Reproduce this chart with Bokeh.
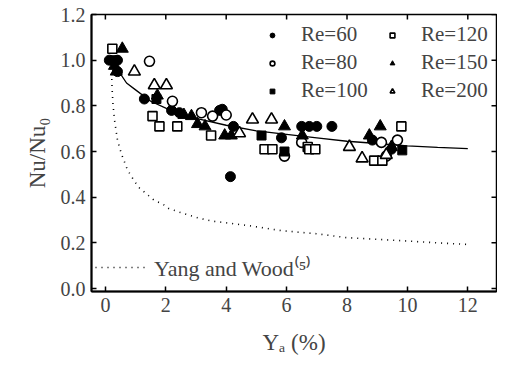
import math
from bokeh.plotting import figure
from bokeh.models import Range1d, Legend, LegendItem, FixedTicker, CustomJSTickFormatter
from bokeh.embed import file_html
from bokeh.resources import INLINE

# ---- data ----
re60_x = [0.13, 0.4, 0.4, 1.29, 2.19, 2.45, 3.78, 3.87, 4.14, 4.24, 5.83, 6.5, 6.75, 7.0, 7.5, 8.84, 9.47]
re60_y = [1.0, 1.0, 0.95, 0.83, 0.78, 0.77, 0.78, 0.785, 0.49, 0.71, 0.66, 0.71, 0.71, 0.71, 0.71, 0.65, 0.61]

re80_x = [1.46, 2.22, 3.18, 3.55, 4.0, 5.93, 6.5, 9.14, 9.67, 9.3]
re80_y = [0.995, 0.82, 0.77, 0.755, 0.76, 0.58, 0.64, 0.64, 0.65, 0.58]

re100_x = [0.3, 1.69, 5.17, 5.93, 9.83]
re100_y = [1.0, 0.83, 0.67, 0.60, 0.605]

re120_x = [0.23, 1.56, 1.79, 2.38, 3.5, 5.27, 5.53, 6.7, 6.75, 6.95, 8.9, 9.17, 9.8]
re120_y = [1.05, 0.755, 0.71, 0.71, 0.67, 0.61, 0.61, 0.62, 0.61, 0.61, 0.56, 0.56, 0.71]

re150_x = [0.56, 0.3, 0.36, 1.72, 2.6, 2.85, 3.05, 3.3, 3.95, 4.17, 5.93, 6.52, 8.74, 9.1, 9.47]
re150_y = [1.05, 0.975, 0.95, 0.845, 0.76, 0.755, 0.72, 0.71, 0.67, 0.67, 0.71, 0.67, 0.67, 0.71, 0.62]

re200_x = [0.96, 1.62, 2.02, 4.44, 4.87, 5.5, 8.08, 8.5, 9.3]
re200_y = [0.95, 0.89, 0.89, 0.68, 0.74, 0.74, 0.62, 0.57, 0.585]

fit_x = [0.4, 0.7, 1.0, 1.5, 2.0, 2.5, 3.0, 4.0, 5.0, 6.0, 7.0, 8.0, 9.0, 10.0, 11.0, 12.0]
fit_y = [0.96, 0.90, 0.87, 0.82, 0.79, 0.765, 0.745, 0.715, 0.69, 0.675, 0.66, 0.645, 0.635, 0.625, 0.618, 0.613]

yw_x = [0.2, 0.22, 0.25, 0.3, 0.4, 0.53, 0.73, 0.96, 1.13, 1.4, 1.62, 1.9, 2.1, 2.55, 3.05, 3.5,
        4.77, 5.86, 6.98, 7.98, 9.07, 10.0, 11.0, 12.0]
yw_y = [0.97, 0.88, 0.81, 0.74, 0.65, 0.59, 0.52, 0.47, 0.44, 0.41, 0.386, 0.37, 0.35, 0.33, 0.31, 0.296,
        0.275, 0.253, 0.24, 0.223, 0.215, 0.208, 0.2, 0.193]

x_ticks = [0, 2, 4, 6, 8, 10, 12]
y_ticks = [0.0, 0.2, 0.4, 0.6, 0.8, 1.0, 1.2]

FONT = "Liberation Serif"
X0, X1 = -0.46, 12.95
Y0, Y1 = -0.013, 1.2

p = figure(output_backend="svg", toolbar_location=None,
           width=497, height=357,
           min_border_left=91, min_border_top=14, min_border_right=1, min_border_bottom=61,
           x_range=Range1d(X0, X1), y_range=Range1d(Y0, Y1),
           x_axis_label="Yₐ (%)", y_axis_label="Nu/Nu₀")
p.xgrid.visible = False
p.ygrid.visible = False
p.outline_line_color = "black"
p.outline_line_width = 1.5
p.background_fill_color = "white"
p.border_fill_color = "white"

for ax in (p.xaxis[0], p.yaxis[0]):
    ax.axis_line_width = 2
    ax.major_tick_in = 5
    ax.major_tick_out = 0
    ax.minor_tick_in = 0
    ax.minor_tick_out = 0
    ax.major_tick_line_width = 1.5
    ax.major_label_text_font = FONT
    ax.major_label_text_font_size = "20px"
    ax.axis_label_text_font = FONT
    ax.axis_label_text_font_size = "23px"
    ax.axis_label_text_font_style = "normal"
p.xaxis[0].ticker = FixedTicker(ticks=x_ticks)
p.yaxis[0].ticker = FixedTicker(ticks=y_ticks)
p.yaxis[0].formatter = CustomJSTickFormatter(code="return tick.toFixed(1);")
p.xaxis[0].major_label_standoff = 6
p.yaxis[0].major_label_standoff = 6
p.xaxis[0].axis_label_standoff = 15
p.yaxis[0].axis_label_standoff = 8

# inward ticks on the top and right edges of the frame
p.ray(x=x_ticks, y=[Y1] * len(x_ticks), length=5, length_units="screen",
      angle=-math.pi / 2, line_color="black", line_width=1.5)
p.ray(x=[X1] * len(y_ticks), y=y_ticks, length=5, length_units="screen",
      angle=math.pi, line_color="black", line_width=1.5)

# curves
yw = p.line(yw_x, yw_y, line_color="black", line_width=1.6, line_dash="1 5")
p.line(fit_x, fit_y, line_color="black", line_width=1.3)

r60 = p.scatter(re60_x, re60_y, marker="circle", size=10, fill_color="black", line_color="black")
r80 = p.scatter(re80_x, re80_y, marker="circle", size=10, fill_color="white", line_color="black", line_width=1.6)
r100 = p.scatter(re100_x, re100_y, marker="square", size=9, fill_color="black", line_color="black")
r120 = p.scatter(re120_x, re120_y, marker="square", size=9, fill_color="white", line_color="black", line_width=1.6)
r150 = p.scatter(re150_x, re150_y, marker="triangle", size=12, fill_color="black", line_color="black")
r200 = p.scatter(re200_x, re200_y, marker="triangle", size=12, fill_color="white", line_color="black", line_width=1.6)

leg = Legend(items=[LegendItem(label="Re=60", renderers=[r60]),
                    LegendItem(label="Re=80", renderers=[r80]),
                    LegendItem(label="Re=100", renderers=[r100]),
                    LegendItem(label="Re=120", renderers=[r120]),
                    LegendItem(label="Re=150", renderers=[r150]),
                    LegendItem(label="Re=200", renderers=[r200])],
             location=(175, 188), ncols=2, orientation="vertical",
             border_line_color=None, background_fill_alpha=0,
             label_text_font=FONT, label_text_font_size="21px",
             glyph_width=12, glyph_height=24, label_height=24, label_width=82,
             label_standoff=23, spacing=3, padding=0, margin=0)
p.add_layout(leg)

leg2 = Legend(items=[LegendItem(label="Yang and Wood⁽⁵⁾", renderers=[yw])],
              location=(4, 9), border_line_color=None, background_fill_alpha=0,
              label_text_font=FONT, label_text_font_size="22px",
              glyph_width=54, glyph_height=24, label_height=24,
              label_standoff=5, padding=0, margin=0)
p.add_layout(leg2)

open("out.html", "w").write(file_html(p, INLINE))
